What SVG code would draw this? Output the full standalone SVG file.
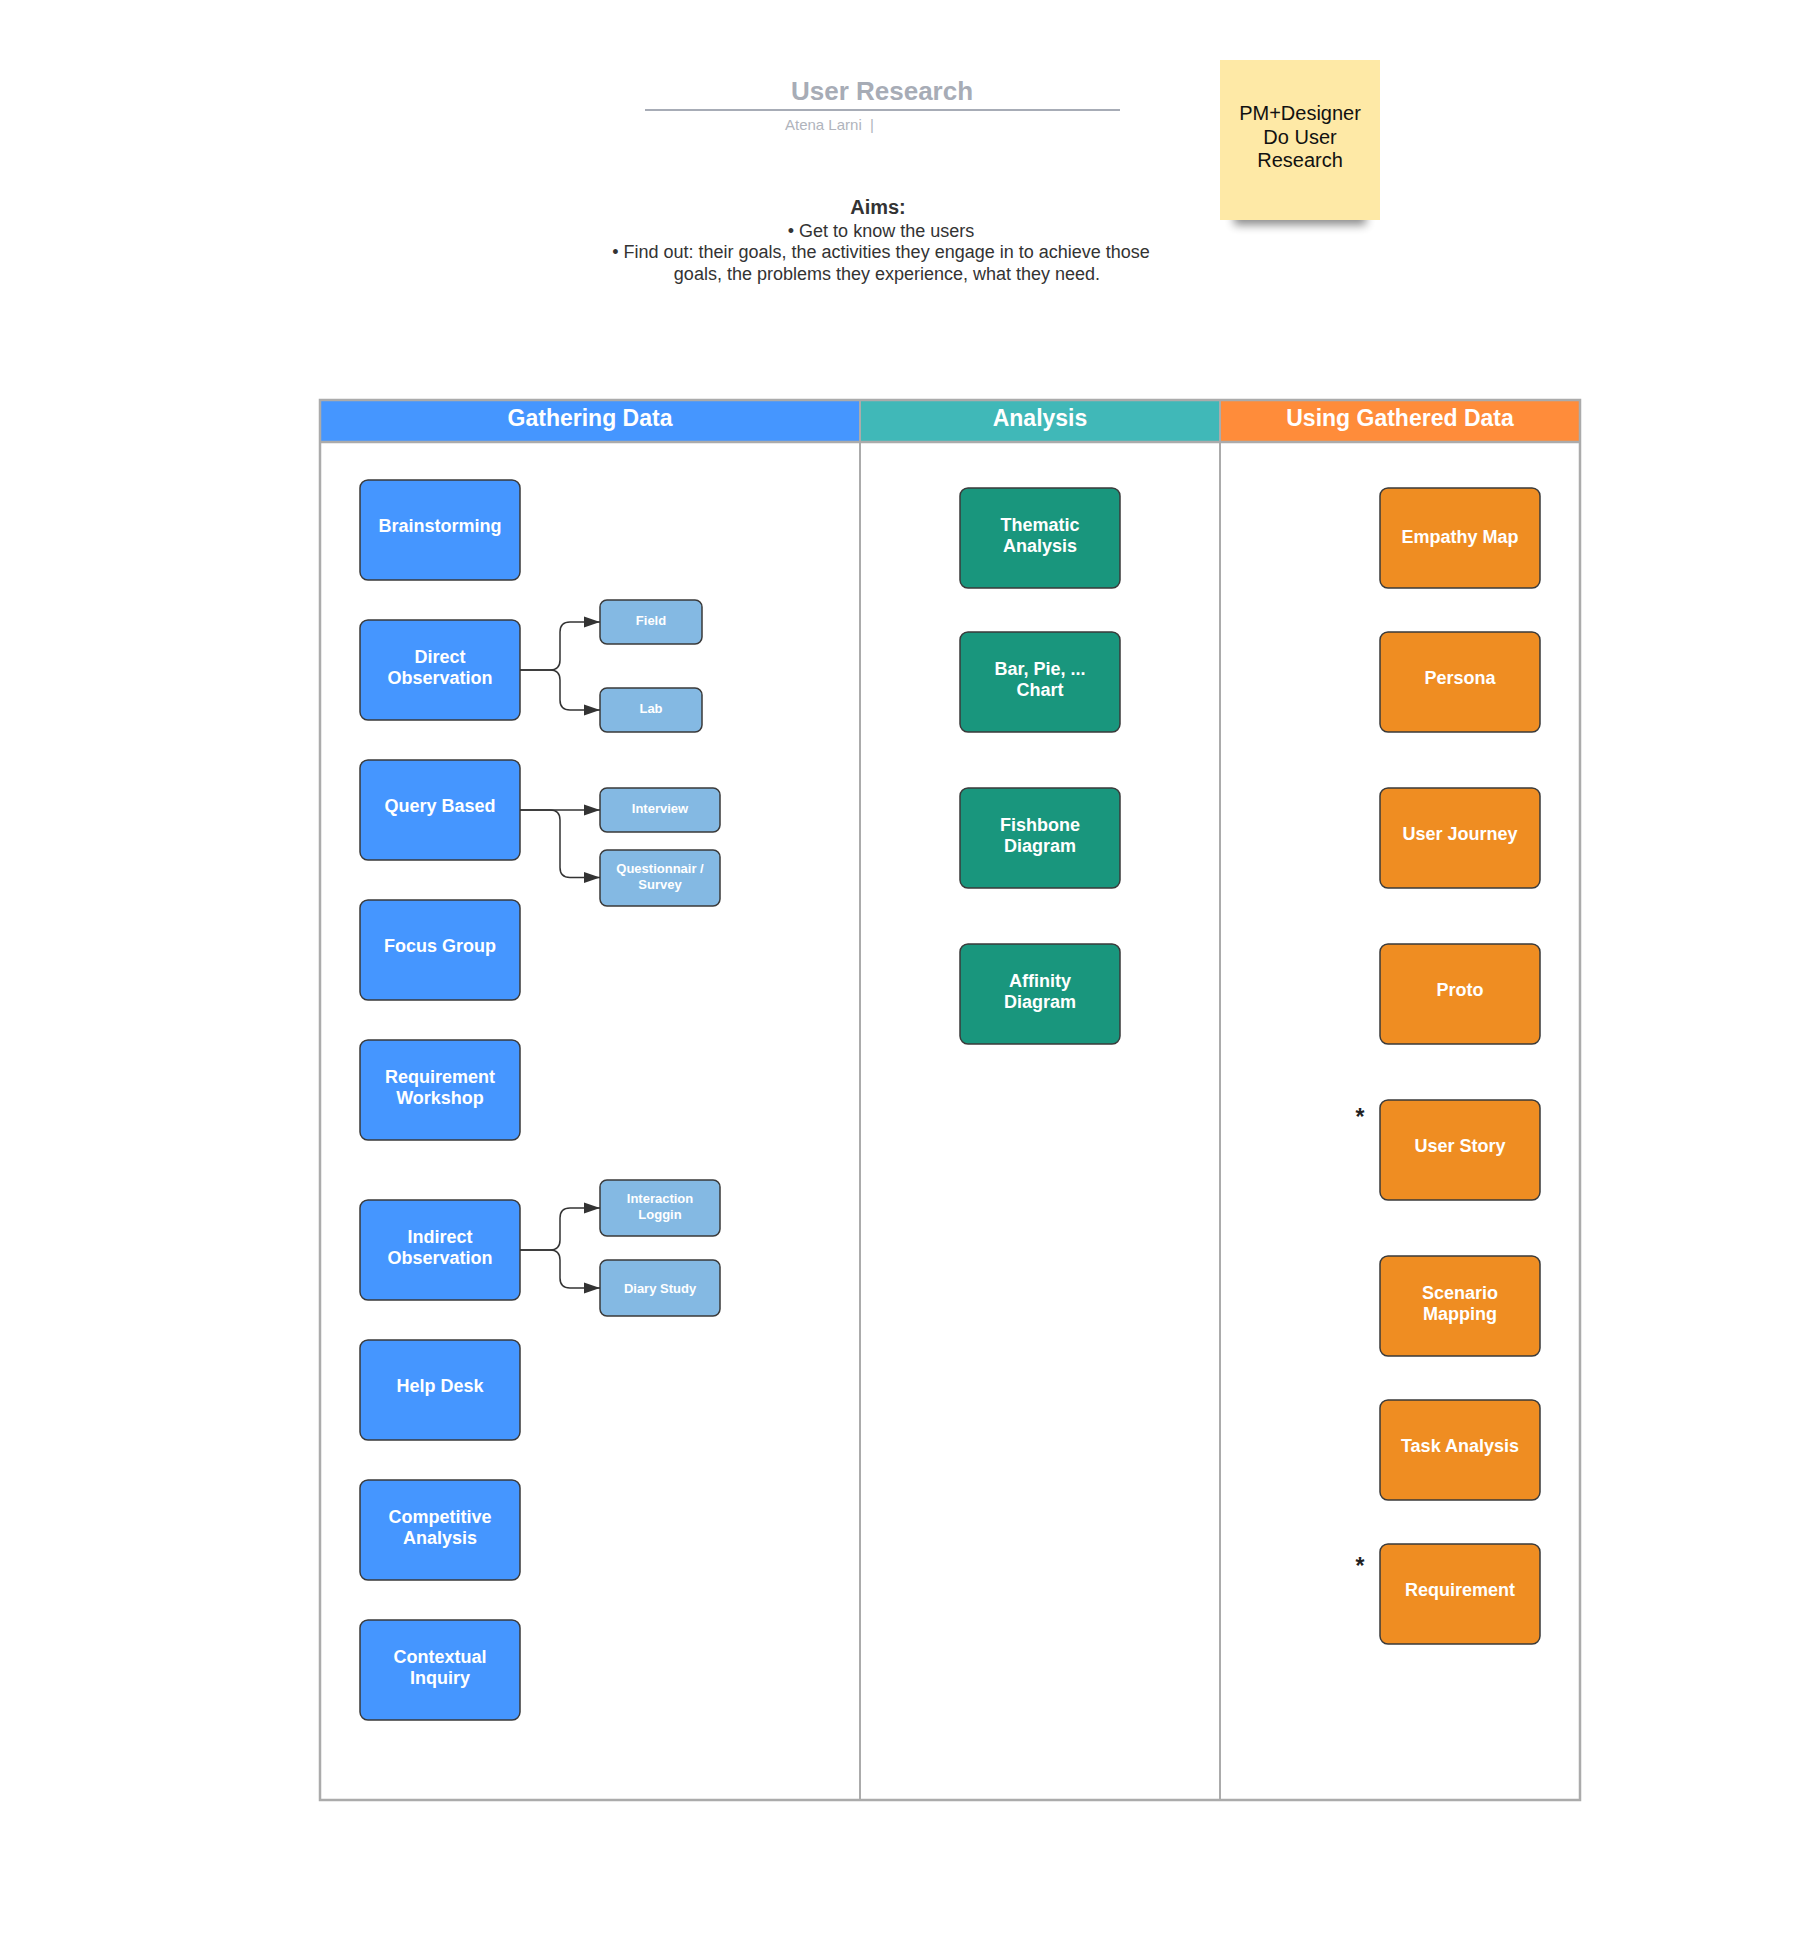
<svg xmlns="http://www.w3.org/2000/svg" width="1817" height="1949" viewBox="0 0 1817 1949">
<style>
text{font-family:"Liberation Sans",Arial,sans-serif}
.n rect{stroke:#3a3a3a;stroke-width:1.5}
.blue rect{fill:#4596FF}
.lb rect{fill:#84B9E3}
.teal rect{fill:#19967D}
.org rect{fill:#EF8D22}
.n text{fill:#fff;font-weight:bold;font-size:18px;text-anchor:middle}
.lb text{font-size:13px}
.hd{fill:#fff;font-weight:bold;font-size:23px;text-anchor:middle}
.aim{fill:#333;font-size:18px;text-anchor:middle}
.conn path{fill:none;stroke:#333;stroke-width:1.5}
.star{fill:#222;font-size:23px;font-weight:bold;text-anchor:middle}
</style>
<defs>
<marker id="arr" markerUnits="userSpaceOnUse" markerWidth="16" markerHeight="12" refX="16" refY="6" orient="auto">
<path d="M0,0.5 L16,6 L0,11.5 z" fill="#333"/>
</marker>
<filter id="sh" x="-30%" y="-100%" width="160%" height="300%"><feGaussianBlur stdDeviation="5"/></filter>
</defs>
<rect width="1817" height="1949" fill="#fff"/>

<g id="title">
<text x="882" y="100" text-anchor="middle" font-size="26" font-weight="bold" fill="#A7ACB6">User Research</text>
<line x1="645" y1="110" x2="1120" y2="110" stroke="#A7ACB6" stroke-width="2"/>
<text x="785" y="130" font-size="15" fill="#B0B4BC" xml:space="preserve">Atena Larni  |</text>
</g>

<g id="aims">
<text x="878" y="214" text-anchor="middle" font-size="20" font-weight="bold" fill="#333">Aims:</text>
<text class="aim" x="881" y="237">• Get to know the users</text>
<text class="aim" x="881" y="258">• Find out: their goals, the activities they engage in to achieve those</text>
<text class="aim" x="887" y="280">goals, the problems they experience, what they need.</text>
</g>

<g id="sticky">
<rect x="1234" y="205" width="132" height="20" fill="#000" opacity="0.45" filter="url(#sh)"/>
<rect x="1220" y="60" width="160" height="160" fill="#FEE9A6"/>
<text x="1300" y="120" text-anchor="middle" font-size="20" fill="#111">PM+Designer</text>
<text x="1300" y="144" text-anchor="middle" font-size="20" fill="#111">Do User</text>
<text x="1300" y="167" text-anchor="middle" font-size="20" fill="#111">Research</text>
</g>

<g id="swimlanes">
<rect x="320" y="400" width="540" height="42" fill="#4596FF"/>
<rect x="860" y="400" width="360" height="42" fill="#40B8B8"/>
<rect x="1220" y="400" width="360" height="42" fill="#FF8C3A"/>
<rect x="320" y="400" width="1260" height="1400" fill="none" stroke="#ABABAB" stroke-width="2.5"/>
<line x1="320" y1="442" x2="1580" y2="442" stroke="#ABABAB" stroke-width="2.5"/>
<line x1="860" y1="400" x2="860" y2="1800" stroke="#ABABAB" stroke-width="2"/>
<line x1="1220" y1="400" x2="1220" y2="1800" stroke="#ABABAB" stroke-width="2"/>
<text class="hd" x="590" y="426">Gathering Data</text>
<text class="hd" x="1040" y="426">Analysis</text>
<text class="hd" x="1400" y="426">Using Gathered Data</text>
</g>

<g id="brainstorming" class="n blue"><rect x="360" y="480" width="160" height="100" rx="8"/><text x="440" y="532">Brainstorming</text></g>
<g id="direct-observation" class="n blue"><rect x="360" y="620" width="160" height="100" rx="8"/><text x="440" y="662.5">Direct</text><text x="440" y="684">Observation</text></g>
<g id="query-based" class="n blue"><rect x="360" y="760" width="160" height="100" rx="8"/><text x="440" y="812">Query Based</text></g>
<g id="focus-group" class="n blue"><rect x="360" y="900" width="160" height="100" rx="8"/><text x="440" y="952">Focus Group</text></g>
<g id="requirement-workshop" class="n blue"><rect x="360" y="1040" width="160" height="100" rx="8"/><text x="440" y="1082.5">Requirement</text><text x="440" y="1104">Workshop</text></g>
<g id="indirect-observation" class="n blue"><rect x="360" y="1200" width="160" height="100" rx="8"/><text x="440" y="1242.5">Indirect</text><text x="440" y="1264">Observation</text></g>
<g id="help-desk" class="n blue"><rect x="360" y="1340" width="160" height="100" rx="8"/><text x="440" y="1392">Help Desk</text></g>
<g id="competitive-analysis" class="n blue"><rect x="360" y="1480" width="160" height="100" rx="8"/><text x="440" y="1522.5">Competitive</text><text x="440" y="1544">Analysis</text></g>
<g id="contextual-inquiry" class="n blue"><rect x="360" y="1620" width="160" height="100" rx="8"/><text x="440" y="1662.5">Contextual</text><text x="440" y="1684">Inquiry</text></g>

<g id="field" class="n lb"><rect x="600" y="600" width="102" height="44" rx="7"/><text x="651" y="624.5">Field</text></g>
<g id="lab" class="n lb"><rect x="600" y="688" width="102" height="44" rx="7"/><text x="651" y="712.5">Lab</text></g>
<g id="interview" class="n lb"><rect x="600" y="788" width="120" height="44" rx="7"/><text x="660" y="812.5">Interview</text></g>
<g id="questionnair-survey" class="n lb"><rect x="600" y="850" width="120" height="56" rx="7"/><text x="660" y="872.5">Questionnair /</text><text x="660" y="888.5">Survey</text></g>
<g id="interaction-loggin" class="n lb"><rect x="600" y="1180" width="120" height="56" rx="7"/><text x="660" y="1202.5">Interaction</text><text x="660" y="1218.5">Loggin</text></g>
<g id="diary-study" class="n lb"><rect x="600" y="1260" width="120" height="56" rx="7"/><text x="660" y="1292.5">Diary Study</text></g>

<g id="thematic-analysis" class="n teal"><rect x="960" y="488" width="160" height="100" rx="8"/><text x="1040" y="530.5">Thematic</text><text x="1040" y="552">Analysis</text></g>
<g id="bar-pie-chart" class="n teal"><rect x="960" y="632" width="160" height="100" rx="8"/><text x="1040" y="674.5">Bar, Pie, ...</text><text x="1040" y="696">Chart</text></g>
<g id="fishbone-diagram" class="n teal"><rect x="960" y="788" width="160" height="100" rx="8"/><text x="1040" y="830.5">Fishbone</text><text x="1040" y="852">Diagram</text></g>
<g id="affinity-diagram" class="n teal"><rect x="960" y="944" width="160" height="100" rx="8"/><text x="1040" y="986.5">Affinity</text><text x="1040" y="1008">Diagram</text></g>

<g id="empathy-map" class="n org"><rect x="1380" y="488" width="160" height="100" rx="8"/><text x="1460" y="543">Empathy Map</text></g>
<g id="persona" class="n org"><rect x="1380" y="632" width="160" height="100" rx="8"/><text x="1460" y="684">Persona</text></g>
<g id="user-journey" class="n org"><rect x="1380" y="788" width="160" height="100" rx="8"/><text x="1460" y="840">User Journey</text></g>
<g id="proto" class="n org"><rect x="1380" y="944" width="160" height="100" rx="8"/><text x="1460" y="996">Proto</text></g>
<g id="user-story" class="n org"><rect x="1380" y="1100" width="160" height="100" rx="8"/><text x="1460" y="1152">User Story</text></g>
<g id="scenario-mapping" class="n org"><rect x="1380" y="1256" width="160" height="100" rx="8"/><text x="1460" y="1298.5">Scenario</text><text x="1460" y="1320">Mapping</text></g>
<g id="task-analysis" class="n org"><rect x="1380" y="1400" width="160" height="100" rx="8"/><text x="1460" y="1452">Task Analysis</text></g>
<g id="requirement" class="n org"><rect x="1380" y="1544" width="160" height="100" rx="8"/><text x="1460" y="1596">Requirement</text></g>

<g id="marks">
<text class="star" x="1360" y="1125">*</text>
<text class="star" x="1360" y="1574">*</text>
</g>

<g id="connectors" class="conn">
<path d="M520,670 H550 Q560,670 560,660 V632 Q560,622 570,622 H600" marker-end="url(#arr)"/>
<path d="M520,670 H550 Q560,670 560,680 V700 Q560,710 570,710 H600" marker-end="url(#arr)"/>
<path d="M520,810 H600" marker-end="url(#arr)"/>
<path d="M520,810 H550 Q560,810 560,820 V867.5 Q560,877.5 570,877.5 H600" marker-end="url(#arr)"/>
<path d="M520,1250 H550 Q560,1250 560,1240 V1218 Q560,1208 570,1208 H600" marker-end="url(#arr)"/>
<path d="M520,1250 H550 Q560,1250 560,1260 V1278 Q560,1288 570,1288 H600" marker-end="url(#arr)"/>
</g>
</svg>
